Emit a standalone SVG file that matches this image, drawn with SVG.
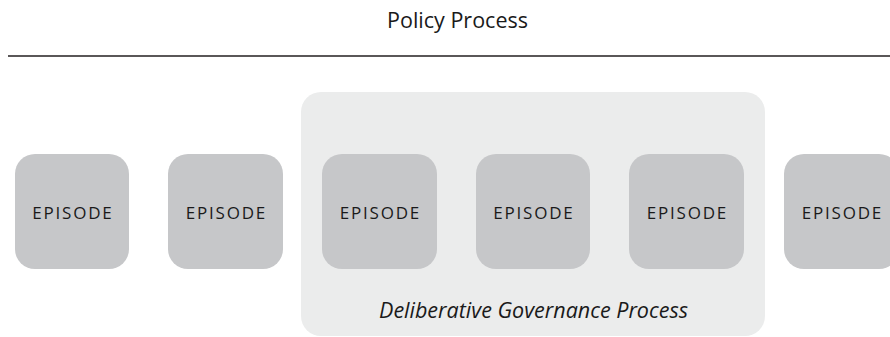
<svg xmlns="http://www.w3.org/2000/svg" width="890" height="337" viewBox="0 0 890 337">
<style>
.t{font-family:"Open Sans","Liberation Sans",sans-serif;fill:#1a1a1a;text-anchor:middle}
.ep{fill:#c6c7c9}
.lbl{font-size:17px;letter-spacing:1.8px}
</style>
<rect width="890" height="337" fill="#fff"/>
<text class="t" x="457.5" y="27.5" font-size="21.5">Policy Process</text>
<line x1="8" y1="56" x2="890" y2="56" stroke="#231f20" stroke-width="1.5"/>
<g id="deliberative">
<rect x="301" y="92" width="464" height="244" rx="20" fill="#ebecec"/>
<text class="t" x="533.5" y="318" font-size="21.5" font-style="italic">Deliberative Governance Process</text>
</g>
<g id="ep1"><rect class="ep" x="15" y="154" width="114" height="115" rx="20"/><text class="t lbl" x="72.9" y="219">EPISODE</text></g>
<g id="ep2"><rect class="ep" x="168" y="154" width="115" height="115" rx="20"/><text class="t lbl" x="226.4" y="219">EPISODE</text></g>
<g id="ep3"><rect class="ep" x="322" y="154" width="115" height="115" rx="20"/><text class="t lbl" x="380.4" y="219">EPISODE</text></g>
<g id="ep4"><rect class="ep" x="476" y="154" width="114" height="115" rx="20"/><text class="t lbl" x="533.9" y="219">EPISODE</text></g>
<g id="ep5"><rect class="ep" x="629" y="154" width="115" height="115" rx="20"/><text class="t lbl" x="687.4" y="219">EPISODE</text></g>
<g id="ep6"><rect class="ep" x="784" y="154" width="115" height="115" rx="20"/><text class="t lbl" x="842.4" y="219">EPISODE</text></g>
<g id="connectors"></g>
</svg>
